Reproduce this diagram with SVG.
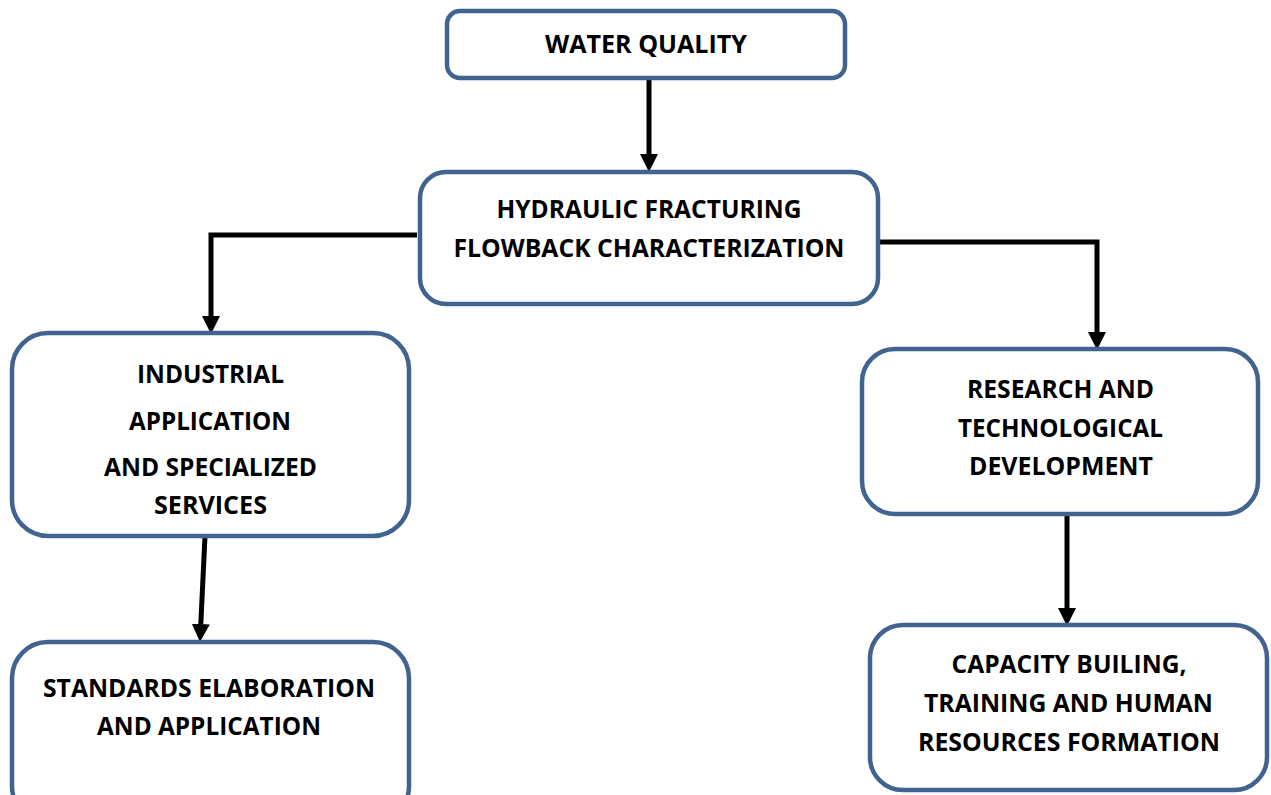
<svg xmlns="http://www.w3.org/2000/svg" width="1271" height="795" viewBox="0 0 1271 795">
<style>
.box{fill:#ffffff;stroke:#41638F;stroke-width:4.5}
.t{font-family:"Open Sans","Liberation Sans",sans-serif;font-weight:bold;font-size:25px;fill:#000;text-anchor:middle}
.c{fill:none;stroke:#000;stroke-width:5}
</style>
<defs>
<marker id="ah" markerUnits="userSpaceOnUse" markerWidth="18" markerHeight="18" refX="0" refY="9" orient="auto" viewBox="0 0 18 18">
<path d="M0,0 L18,9 L0,18 z" fill="#000"/>
</marker>
</defs>
<rect width="1271" height="795" fill="#ffffff"/>
<g id="connectors">
<path class="c" d="M649,79 L649,154" marker-end="url(#ah)"/>
<path class="c" d="M417,235 L211,235 L211,316" marker-end="url(#ah)"/>
<path class="c" d="M875,242 L1097,242 L1097,332" marker-end="url(#ah)"/>
<path class="c" d="M205,536 L200.8,624" marker-end="url(#ah)"/>
<path class="c" d="M1067,514 L1067,608" marker-end="url(#ah)"/>
</g>
<g id="n1">
<rect class="box" x="447" y="11" width="398" height="67" rx="13"/>
<text class="t" x="646" y="53" textLength="202" lengthAdjust="spacingAndGlyphs">WATER QUALITY</text>
</g>
<g id="n2">
<rect class="box" x="420" y="172" width="458" height="132" rx="26"/>
<text class="t" x="649" y="218" textLength="305" lengthAdjust="spacingAndGlyphs">HYDRAULIC FRACTURING</text>
<text class="t" x="649" y="257" textLength="391" lengthAdjust="spacingAndGlyphs">FLOWBACK CHARACTERIZATION</text>
</g>
<g id="n3">
<rect class="box" x="12" y="333" width="397" height="203" rx="36"/>
<text class="t" x="210.5" y="383" textLength="147" lengthAdjust="spacingAndGlyphs">INDUSTRIAL</text>
<text class="t" x="210" y="430" textLength="162" lengthAdjust="spacingAndGlyphs">APPLICATION</text>
<text class="t" x="210.5" y="476" textLength="213" lengthAdjust="spacingAndGlyphs">AND SPECIALIZED</text>
<text class="t" x="210.5" y="514" textLength="113" lengthAdjust="spacingAndGlyphs">SERVICES</text>
</g>
<g id="n4">
<rect class="box" x="12" y="642" width="397" height="180" rx="36"/>
<text class="t" x="209" y="697" textLength="332" lengthAdjust="spacingAndGlyphs">STANDARDS ELABORATION</text>
<text class="t" x="209" y="735" textLength="224" lengthAdjust="spacingAndGlyphs">AND APPLICATION</text>
</g>
<g id="n5">
<rect class="box" x="862" y="349" width="396" height="165" rx="33"/>
<text class="t" x="1060.5" y="398" textLength="187" lengthAdjust="spacingAndGlyphs">RESEARCH AND</text>
<text class="t" x="1060.5" y="437" textLength="205" lengthAdjust="spacingAndGlyphs">TECHNOLOGICAL</text>
<text class="t" x="1061" y="475" textLength="184" lengthAdjust="spacingAndGlyphs">DEVELOPMENT</text>
</g>
<g id="n6">
<rect class="box" x="870" y="625" width="397" height="165" rx="33"/>
<text class="t" x="1069" y="673" textLength="235" lengthAdjust="spacingAndGlyphs">CAPACITY BUILING,</text>
<text class="t" x="1068.5" y="712" textLength="289" lengthAdjust="spacingAndGlyphs">TRAINING AND HUMAN</text>
<text class="t" x="1069" y="751" textLength="302" lengthAdjust="spacingAndGlyphs">RESOURCES FORMATION</text>
</g>
</svg>
